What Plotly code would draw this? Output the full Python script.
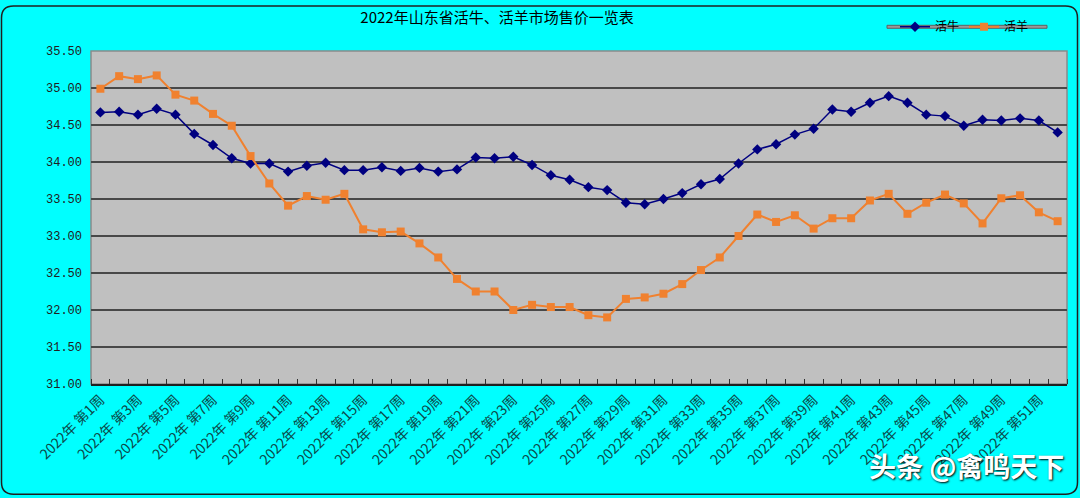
import plotly.graph_objects as go

weeks = list(range(1, 53))
cattle = [34.67, 34.68, 34.64, 34.72, 34.64, 34.38, 34.23, 34.05, 33.98, 33.98,
          33.87, 33.95, 33.99, 33.89, 33.89, 33.93, 33.88, 33.92, 33.87, 33.90,
          34.06, 34.05, 34.07, 33.96, 33.82, 33.76, 33.66, 33.62, 33.45, 33.43,
          33.50, 33.58, 33.70, 33.77, 33.98, 34.17, 34.24, 34.37, 34.45, 34.71,
          34.68, 34.80, 34.89, 34.80, 34.64, 34.62, 34.49, 34.57, 34.56, 34.59,
          34.56, 34.40]
sheep = [34.99, 35.16, 35.12, 35.17, 34.91, 34.83, 34.65, 34.49, 34.08, 33.71,
         33.41, 33.54, 33.49, 33.57, 33.09, 33.05, 33.06, 32.90, 32.71, 32.42,
         32.25, 32.25, 32.00, 32.07, 32.04, 32.04, 31.93, 31.90, 32.15, 32.17,
         32.22, 32.35, 32.54, 32.71, 33.00, 33.29, 33.19, 33.28, 33.10, 33.24,
         33.24, 33.48, 33.57, 33.30, 33.45, 33.56, 33.44, 33.17, 33.51, 33.55,
         33.32, 33.20]
label_weeks = list(range(1, 52, 2))
tick_labels = [f"2022年 第{w}周" for w in label_weeks]

W, H = 1080, 498
L, R, T, B = 91, 1067, 47, 384


def px(x):
    return (x - L) / (R - L)


def py(y):
    return (B - y) / (B - T)


fig = go.Figure()
fig.add_trace(go.Scatter(
    x=weeks, y=cattle, name="活牛", mode="lines+markers",
    line=dict(color="#000080", width=1.5),
    marker=dict(symbol="diamond", size=8, color="#000080"),
))
fig.add_trace(go.Scatter(
    x=weeks, y=sheep, name="活羊", mode="lines+markers",
    line=dict(color="#F0812F", width=2),
    marker=dict(symbol="square", size=8, color="#F0812F"),
))

# rounded outer border
x0, x1, y0, y1, r = 1.5, 1077.5, 1.5, 495.5, 12
path = (f"M {px(x0 + r)} {py(y0)} L {px(x1 - r)} {py(y0)} "
        f"Q {px(x1)} {py(y0)} {px(x1)} {py(y0 + r)} "
        f"L {px(x1)} {py(y1 - r)} Q {px(x1)} {py(y1)} {px(x1 - r)} {py(y1)} "
        f"L {px(x0 + r)} {py(y1)} Q {px(x0)} {py(y1)} {px(x0)} {py(y1 - r)} "
        f"L {px(x0)} {py(y0 + r)} Q {px(x0)} {py(y0)} {px(x0 + r)} {py(y0)} Z")

shapes = [
    dict(type="path", path=path, xref="paper", yref="paper",
         line=dict(color="#202020", width=1.5), layer="above"),
    dict(type="rect", xref="paper", yref="paper", x0=0, x1=1, y0=0, y1=1,
         line=dict(color="#8a8a8a", width=1.5), layer="below"),
    dict(type="rect", xref="paper", yref="paper",
         x0=px(887), x1=px(1047), y0=py(24), y1=py(21),
         line=dict(color="#606060", width=1), fillcolor="#9a9a9a", layer="below"),
]

fig.update_layout(
    width=W, height=H,
    margin=dict(l=L, r=W - R, t=T, b=H - B),
    paper_bgcolor="#00FFFF",
    plot_bgcolor="#C0C0C0",
    title=dict(text="2022年山东省活牛、活羊市场售价一览表",
               x=497 / W, xanchor="center", y=1 - 18 / H, yanchor="middle",
               xref="container", yref="container",
               font=dict(family="Noto Sans CJK SC", size=15, color="#000000")),
    showlegend=True,
    legend=dict(orientation="h", x=px(895), xanchor="left",
                y=py(22.5), yanchor="middle", bgcolor="rgba(0,0,0,0)",
                font=dict(family="Noto Sans CJK SC", size=12, color="#000000"),
                itemwidth=30, tracegroupgap=0),
    shapes=shapes,
    annotations=[dict(text="<b>头条 @禽鸣天下</b>", xref="paper", yref="paper",
                      x=px(1066), y=py(466), xanchor="right", yanchor="middle",
                      showarrow=False,
                      font=dict(family="Noto Sans CJK SC", size=27, color="#FFFFFF",
                                shadow="1px 1px 2px #000000"))],
    font=dict(family="Noto Sans CJK SC"),
)

fig.update_xaxes(
    range=[0.5, 52.5], tickmode="array", tickvals=label_weeks, ticktext=tick_labels,
    tickangle=-45, ticks="", showgrid=False, zeroline=False,
    showline=True, linecolor="#202020", linewidth=2,
    tickfont=dict(family="Noto Sans CJK SC", size=14, color="#0d4a4a"),
    minor=dict(tickmode="array", tickvals=[k + 0.5 for k in range(0, 53)],
               ticks="inside", ticklen=5, tickcolor="#303030", tickwidth=1,
               showgrid=False),
)
fig.update_yaxes(
    range=[31, 35.5], tickmode="linear", tick0=31, dtick=0.5, tickformat=".2f",
    showgrid=True, gridcolor="#484848", gridwidth=1.5, zeroline=False,
    showline=False, ticks="", ticklabelstandoff=8,
    tickfont=dict(family="Liberation Mono", size=12, color="#202020"),
)

fig.write_html("out.html")
